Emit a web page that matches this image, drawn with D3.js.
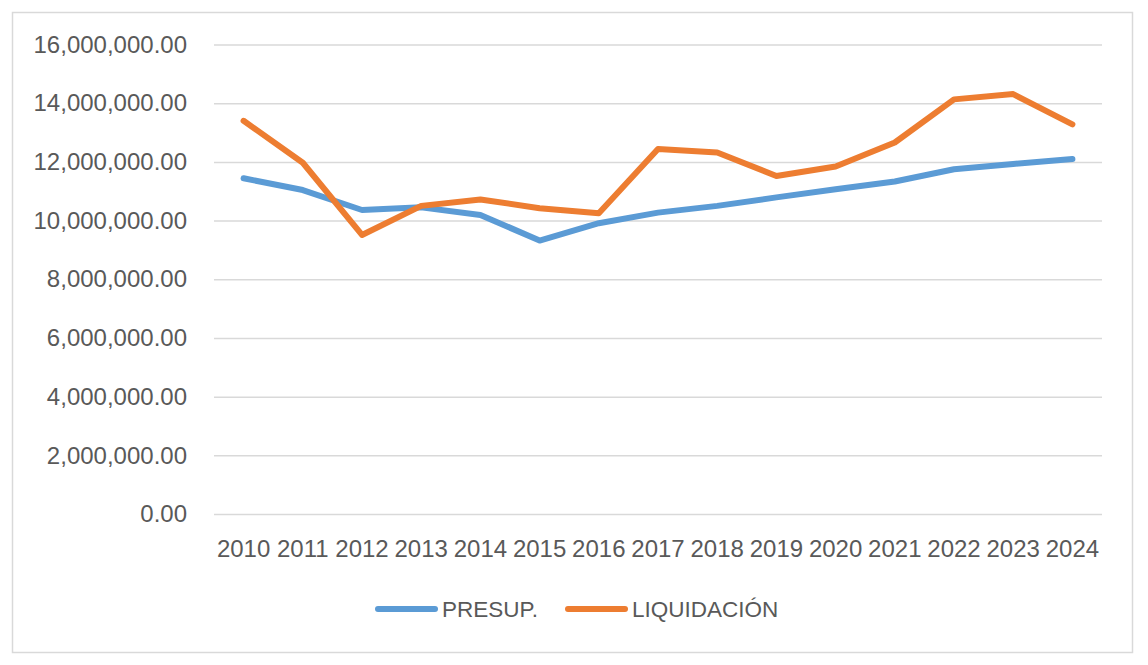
<!DOCTYPE html>
<html>
<head>
<meta charset="utf-8">
<script src="https://cdn.jsdelivr.net/npm/d3@7"></script>
<style>
  body { margin: 0; background: #fff; }
  text { font-family: "Liberation Sans", Arial, sans-serif; fill: #595959; }
</style>
</head>
<body>
<svg id="chart"></svg>
<script>
// data
const years = ['2010', '2011', '2012', '2013', '2014', '2015', '2016', '2017', '2018', '2019', '2020', '2021', '2022', '2023', '2024'];
const presup = [11440000, 11040000, 10360000, 10450000, 10190000, 9320000, 9910000, 10270000, 10500000, 10790000, 11070000, 11330000, 11750000, 11930000, 12100000];
const liquidacion = [13400000, 11970000, 9510000, 10500000, 10720000, 10420000, 10250000, 12440000, 12320000, 11520000, 11840000, 12660000, 14130000, 14310000, 13280000];
const yTicks = [0, 2000000, 4000000, 6000000, 8000000, 10000000, 12000000, 14000000, 16000000];
const seriesNames = ['PRESUP.', 'LIQUIDACIÓN'];
const colors = ['#5B9BD5', '#ED7D31'];

const width = 1148, height = 665;
const margin = { left: 214, right: 46, top: 44.5, bottom: 151 };

const svg = d3.select('#chart').attr('width', width).attr('height', height);

// outer frame
svg.append('rect')
  .attr('x', 12.5).attr('y', 12.5)
  .attr('width', 1120).attr('height', 640)
  .attr('fill', 'none').attr('stroke', '#d9d9d9').attr('stroke-width', 1.5);

const x = d3.scaleBand().domain(years).range([margin.left, width - margin.right]).padding(0);
const y = d3.scaleLinear().domain([0, 16000000]).range([height - margin.bottom, margin.top]);

// y axis + gridlines
const yAxis = svg.append('g')
  .attr('transform', `translate(${margin.left},0)`)
  .call(d3.axisLeft(y).tickValues(yTicks).tickFormat(d3.format(',.2f'))
    .tickSize(-(width - margin.left - margin.right)).tickPadding(27));
yAxis.select('.domain').remove();
yAxis.selectAll('line').attr('stroke', '#d9d9d9').attr('stroke-width', 1.5);
yAxis.selectAll('text').style('font-size', '24px').attr('fill', '#595959');

// x axis labels
const xAxis = svg.append('g')
  .attr('transform', `translate(0,${height - margin.bottom})`)
  .call(d3.axisBottom(x).tickSize(0).tickPadding(26));
xAxis.select('.domain').remove();
xAxis.selectAll('text').style('font-size', '24px').attr('fill', '#595959');

// lines
const line = d3.line()
  .x((d, i) => x(years[i]) + x.bandwidth() / 2)
  .y(d => y(d));

[presup, liquidacion].forEach((s, k) => {
  svg.append('path')
    .datum(s)
    .attr('d', line)
    .attr('fill', 'none')
    .attr('stroke', colors[k])
    .attr('stroke-width', 6)
    .attr('stroke-linejoin', 'round')
    .attr('stroke-linecap', 'round');
});

// legend
const legendX = [378, 568];
const legend = svg.append('g');
seriesNames.forEach((name, k) => {
  legend.append('line')
    .attr('x1', legendX[k]).attr('x2', legendX[k] + 57)
    .attr('y1', 609).attr('y2', 609)
    .attr('stroke', colors[k]).attr('stroke-width', 6).attr('stroke-linecap', 'round');
  legend.append('text')
    .attr('x', legendX[k] + 64).attr('y', 617)
    .style('font-size', '22.5px')
    .text(name);
});
</script>
</body>
</html>
